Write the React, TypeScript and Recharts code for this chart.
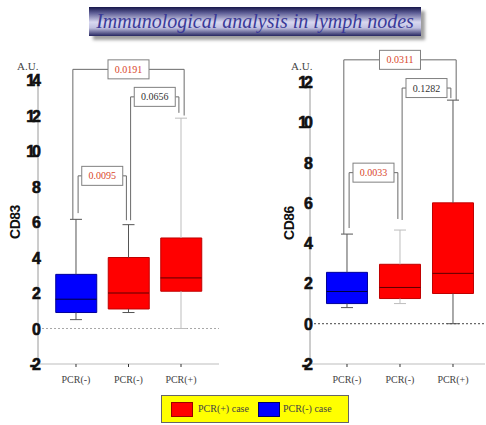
import React from 'react';
import { ComposedChart, Bar, Cell, XAxis, YAxis, ReferenceLine, ReferenceDot } from 'recharts';

// ---------- data ----------
const categories = ['PCR(-)', 'PCR(-)', 'PCR(+)'];
const groupIsPositive = [false, true, true];

const cd83Min = [0.5, 0.9, 0.0];
const cd83Q1 = [0.9, 1.1, 2.1];
const cd83Median = [1.65, 2.0, 2.85];
const cd83Q3 = [3.05, 4.0, 5.1];
const cd83Max = [6.15, 5.85, 11.85];
const cd83Ticks = [-2, 0, 2, 4, 6, 8, 10, 12, 14];

const cd83PValues = ['0.0095', '0.0656', '0.0191'];
const cd83PFrom = [1, 2, 1];
const cd83PTo = [2, 3, 3];
const cd83PLevel = [8.6, 13.05, 14.6];
const cd83PFootL = [6.5, 6.1, 6.15];
const cd83PFootR = [6.1, 12.15, 12.0];
const cd83PSignificant = [true, false, true];

const cd86Min = [0.8, 1.0, 0.0];
const cd86Q1 = [1.0, 1.25, 1.5];
const cd86Median = [1.6, 1.8, 2.5];
const cd86Q3 = [2.55, 2.95, 6.0];
const cd86Max = [4.45, 4.65, 11.1];
const cd86Ticks = [-2, 0, 2, 4, 6, 8, 10, 12];

const cd86PValues = ['0.0033', '0.1282', '0.0311'];
const cd86PFrom = [1, 2, 1];
const cd86PTo = [2, 3, 3];
const cd86PLevel = [7.5, 11.7, 13.1];
const cd86PFootL = [4.75, 5.15, 4.45];
const cd86PFootR = [5.2, 11.2, 11.1];
const cd86PSignificant = [true, false, true];

const legendLabels = ['PCR(+) case', 'PCR(-) case'];

// ---------- styles ----------
const RED = '#ff0000';
const BLUE = '#0000ff';
const SIG_COLOR = '#d8452a';
const NONSIG_COLOR = '#333333';
const SERIF = "'Liberation Serif', 'Times New Roman', serif";
const SANS = "'Liberation Sans', Arial, sans-serif";

type ChartCfg = {
  left: number;
  width: number;
  height: number;
  marginTop: number;
  marginRight: number;
  yAxisWidth: number;
  xDomain: [number, number];
  yDomain: [number, number];
  yLabelDx: number;
  whiskerColors: string[];
  zeroColor: string;
};

type SeriesProps = {
  label: string;
  mins: number[];
  q1: number[];
  med: number[];
  q3: number[];
  maxs: number[];
  ticks: number[];
  pValues: string[];
  pFrom: number[];
  pTo: number[];
  pLevel: number[];
  pFootL: number[];
  pFootR: number[];
  pSig: boolean[];
  cfg: ChartCfg;
};

const YTick = (props: any) => {
  const { x, y, payload } = props;
  return (
    <text
      x={x + 2}
      y={y}
      dy={6}
      textAnchor="end"
      fontFamily={SANS}
      fontWeight="bold"
      fontSize={16}
      letterSpacing={-3}
      fill="#111"
      stroke="#111"
      strokeWidth={0.6}
    >
      {payload.value}
    </text>
  );
};

const PLabel = (props: any) => {
  const { cx, cy, text, color } = props;
  if (cx == null || cy == null) return null;
  return (
    <g>
      <rect x={cx - 20.5} y={cy - 9.5} width={41} height={19} fill="#fff" stroke="#808080" strokeWidth={1} />
      <text x={cx} y={cy} dy={3.5} textAnchor="middle" fontFamily={SERIF} fontSize={10} fill={color}>
        {text}
      </text>
    </g>
  );
};

function BoxChart(p: SeriesProps) {
  const { cfg } = p;
  const xAxisHeight = 30;
  const plotBottom = 364;
  const marginBottom = cfg.height - plotBottom - xAxisHeight;
  const plotWidth = cfg.width - cfg.yAxisWidth - cfg.marginRight;
  const pxPerUnit = plotWidth / (cfg.xDomain[1] - cfg.xDomain[0]);
  const boxPx = 41;
  const halfBox = boxPx / 2 / pxPerUnit;
  const capHalf = 6 / pxPerUnit;
  const labelHalf = 20.5 / pxPerUnit;
  const inset = 0.04;
  const outset = 0.06;

  const data = categories.map((c, i) => ({ x: i + 1, name: c, box: [p.q1[i], p.q3[i]] }));

  const elements: React.ReactNode[] = [];

  categories.forEach((_, i) => {
    const x = i + 1;
    const wc = cfg.whiskerColors[i];
    elements.push(
      <ReferenceLine key={`wu${i}`} segment={[{ x, y: p.q3[i] }, { x, y: p.maxs[i] }]} stroke={wc} strokeWidth={1} ifOverflow="visible" />,
      <ReferenceLine key={`wl${i}`} segment={[{ x, y: p.mins[i] }, { x, y: p.q1[i] }]} stroke={wc} strokeWidth={1} ifOverflow="visible" />,
      <ReferenceLine key={`cu${i}`} segment={[{ x: x - capHalf, y: p.maxs[i] }, { x: x + capHalf, y: p.maxs[i] }]} stroke={wc} strokeWidth={1} ifOverflow="visible" />,
      <ReferenceLine key={`cl${i}`} segment={[{ x: x - capHalf, y: p.mins[i] }, { x: x + capHalf, y: p.mins[i] }]} stroke={wc} strokeWidth={1} ifOverflow="visible" />
    );
  });

  p.pValues.forEach((pv, i) => {
    const span = p.pTo[i] - p.pFrom[i] > 1;
    const xL = span ? p.pFrom[i] - outset : p.pFrom[i] + inset;
    const xR = span ? p.pTo[i] + outset : p.pTo[i] - inset;
    const cx = (xL + xR) / 2;
    const lvl = p.pLevel[i];
    const c = '#6a6a6a';
    elements.push(
      <ReferenceLine key={`bl${i}`} segment={[{ x: xL, y: p.pFootL[i] }, { x: xL, y: lvl }]} stroke={c} ifOverflow="visible" />,
      <ReferenceLine key={`br${i}`} segment={[{ x: xR, y: p.pFootR[i] }, { x: xR, y: lvl }]} stroke={c} ifOverflow="visible" />,
      <ReferenceLine key={`hl${i}`} segment={[{ x: xL, y: lvl }, { x: cx - labelHalf, y: lvl }]} stroke={c} ifOverflow="visible" />,
      <ReferenceLine key={`hr${i}`} segment={[{ x: cx + labelHalf, y: lvl }, { x: xR, y: lvl }]} stroke={c} ifOverflow="visible" />,
      <ReferenceDot
        key={`pl${i}`}
        x={cx}
        y={lvl}
        r={1}
        ifOverflow="visible"
        shape={(sp: any) => <PLabel {...sp} text={pv} color={p.pSig[i] ? SIG_COLOR : NONSIG_COLOR} />}
      />
    );
  });

  return (
    <div style={{ position: 'absolute', left: cfg.left, top: 0 }}>
      <ComposedChart
        width={cfg.width}
        height={cfg.height}
        data={data}
        margin={{ top: cfg.marginTop, right: cfg.marginRight, bottom: marginBottom, left: 0 }}
      >
        <XAxis
          type="number"
          dataKey="x"
          domain={cfg.xDomain}
          allowDataOverflow
          ticks={[1, 2, 3]}
          tickFormatter={(v: number) => categories[Math.round(v) - 1] ?? ''}
          height={xAxisHeight}
          axisLine={{ stroke: '#bdbdbd' }}
          tickLine={{ stroke: '#333' }}
          tickSize={3}
          tickMargin={9}
          tick={{ fontFamily: SERIF, fontSize: 10, fill: '#444' }}
        />
        <YAxis
          type="number"
          domain={cfg.yDomain}
          ticks={p.ticks}
          allowDataOverflow
          width={cfg.yAxisWidth}
          axisLine={{ stroke: '#9a9a9a' }}
          tickLine={false}
          tickSize={2}
          tickMargin={0}
          tick={<YTick />}
          label={{
            value: p.label,
            angle: -90,
            position: 'center',
            dx: cfg.yLabelDx,
            style: { fontFamily: SANS, fontWeight: 'bold', fontSize: 14, fill: '#111', letterSpacing: -0.5 },
          }}
        />
        <ReferenceLine y={0} stroke={cfg.zeroColor} strokeDasharray="2 2" />
        {elements}
        <Bar dataKey="box" barSize={boxPx} isAnimationActive={false}>
          {data.map((d, i) => (
            <Cell
              key={i}
              fill={groupIsPositive[i] ? RED : BLUE}
              stroke={groupIsPositive[i] ? '#c00000' : '#00009a'}
              strokeWidth={1}
            />
          ))}
        </Bar>
        {categories.map((_, i) => (
          <ReferenceLine
            key={`md${i}`}
            segment={[{ x: i + 1 - halfBox, y: p.med[i] }, { x: i + 1 + halfBox, y: p.med[i] }]}
            stroke={groupIsPositive[i] ? '#5a0000' : '#00003a'}
            strokeWidth={1}
            ifOverflow="visible"
          />
        ))}
      </ComposedChart>
    </div>
  );
}

const leftCfg: ChartCfg = {
  left: 0,
  width: 243,
  height: 425,
  marginTop: 80,
  marginRight: 24,
  yAxisWidth: 38,
  xDomain: [0.2762, 3.7238],
  yDomain: [-2, 14],
  yLabelDx: -4,
  whiskerColors: ['#555', '#555', '#bdbdbd'],
  zeroColor: '#a8a8a8',
};

const rightCfg: ChartCfg = {
  left: 243,
  width: 243,
  height: 425,
  marginTop: 82,
  marginRight: 1,
  yAxisWidth: 67,
  xDomain: [0.302, 3.604],
  yDomain: [-2, 12],
  yLabelDx: 13,
  whiskerColors: ['#555', '#bdbdbd', '#555'],
  zeroColor: '#444',
};

export default function App() {
  return (
    <div style={{ position: 'absolute', left: 0, top: 0, width: 486, height: 425, background: '#fff', overflow: 'hidden' }}>
      <div
        style={{
          position: 'absolute',
          left: 89,
          top: 7,
          width: 332,
          height: 29,
          background:
            'linear-gradient(to bottom, #16164a 0%, #5c5c94 20%, #d8d8f0 52%, #c0c0e0 72%, #262660 100%)',
          boxShadow: '4px 4px 3px #a0a0a0',
          textAlign: 'center',
          lineHeight: '29px',
          fontFamily: SERIF,
          fontStyle: 'italic',
          fontSize: 20,
          color: '#3a3a98',
          whiteSpace: 'nowrap',
        }}
      >
        Immunological analysis in lymph nodes
      </div>

      <BoxChart
        label="CD83"
        mins={cd83Min}
        q1={cd83Q1}
        med={cd83Median}
        q3={cd83Q3}
        maxs={cd83Max}
        ticks={cd83Ticks}
        pValues={cd83PValues}
        pFrom={cd83PFrom}
        pTo={cd83PTo}
        pLevel={cd83PLevel}
        pFootL={cd83PFootL}
        pFootR={cd83PFootR}
        pSig={cd83PSignificant}
        cfg={leftCfg}
      />
      <BoxChart
        label="CD86"
        mins={cd86Min}
        q1={cd86Q1}
        med={cd86Median}
        q3={cd86Q3}
        maxs={cd86Max}
        ticks={cd86Ticks}
        pValues={cd86PValues}
        pFrom={cd86PFrom}
        pTo={cd86PTo}
        pLevel={cd86PLevel}
        pFootL={cd86PFootL}
        pFootR={cd86PFootR}
        pSig={cd86PSignificant}
        cfg={rightCfg}
      />

      <div style={{ position: 'absolute', left: 17, top: 60, fontFamily: SERIF, fontSize: 11, color: '#444' }}>A.U.</div>
      <div style={{ position: 'absolute', left: 291, top: 60, fontFamily: SERIF, fontSize: 11, color: '#444' }}>A.U.</div>

      <div
        style={{
          position: 'absolute',
          left: 161,
          top: 395,
          width: 188,
          height: 28,
          boxSizing: 'border-box',
          background: '#ffff00',
          border: '1px solid #666',
          fontFamily: SERIF,
          fontSize: 10,
          color: '#444',
        }}
      >
        <div style={{ position: 'absolute', left: 9, top: 6, width: 22, height: 15, boxSizing: 'border-box', background: RED, border: '1px solid #900' }} />
        <div style={{ position: 'absolute', left: 36, top: 7, whiteSpace: 'nowrap' }}>{legendLabels[0]}</div>
        <div style={{ position: 'absolute', left: 96, top: 6, width: 22, height: 15, boxSizing: 'border-box', background: BLUE, border: '1px solid #006' }} />
        <div style={{ position: 'absolute', left: 121, top: 7, whiteSpace: 'nowrap' }}>{legendLabels[1]}</div>
      </div>
    </div>
  );
}
